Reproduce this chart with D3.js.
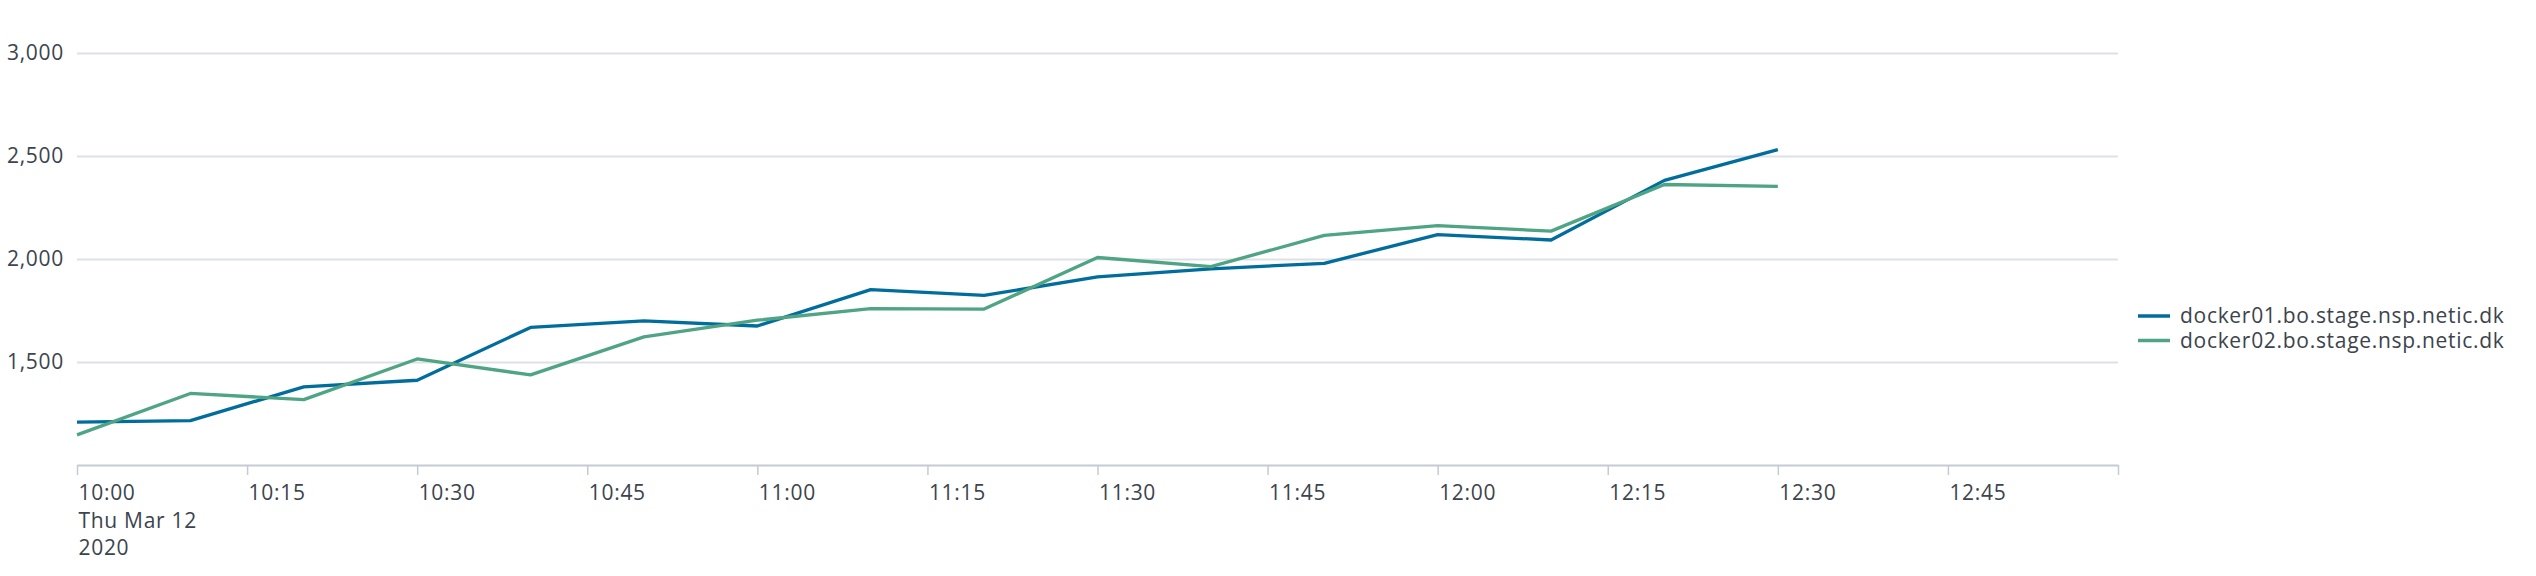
<!DOCTYPE html>
<html>
<head>
<meta charset="utf-8">
<script src="https://cdn.jsdelivr.net/npm/d3@7"></script>
<style>
  html, body { margin: 0; padding: 0; background: #ffffff; }
  svg { display: block; }
  text { font-family: "Open Sans", Lato, sans-serif; letter-spacing: 0.7px; }
</style>
</head>
<body>
<svg id="chart" width="2536" height="576"></svg>
<script>
// ---- data ----
const times = ["10:00","10:10","10:20","10:30","10:40","10:50","11:00","11:10",
               "11:20","11:30","11:40","11:50","12:00","12:10","12:20","12:30"];
const docker01 = [1208,1215,1379,1411,1667,1699,1674,1850,1822,1912,1951,1978,2117,2091,2380,2529];
const docker02 = [1146,1347,1317,1514,1437,1621,1702,1758,1756,2006,1962,2113,2161,2134,2360,2351];
const seriesNames = ["docker01.bo.stage.nsp.netic.dk", "docker02.bo.stage.nsp.netic.dk"];
const seriesColors = ["#006d9c", "#4fa484"];
const yTicks = [1500, 2000, 2500, 3000];
const xStart = "10:00", xEnd = "13:00";
const dateLines = ["Thu Mar 12", "2020"];

// ---- setup ----
const parse = d3.timeParse("%Y-%m-%d %H:%M");
const t = s => parse("2020-03-12 " + s);
const svg = d3.select("#chart");
const mLeft = 77, mRight = 2118, mTop = 52.5, mBottom = 465;

const x = d3.scaleTime().domain([t(xStart), t(xEnd)]).range([mLeft, mRight]);
const y = d3.scaleLinear().domain([1000, 3000]).range([mBottom, mTop]);

const textColor = "#3c444d";
const fontFam = "'Open Sans', Lato, sans-serif";
const fs = 21;

// gridlines
svg.append("g").selectAll("line").data(yTicks).join("line")
  .attr("x1", mLeft).attr("x2", mRight)
  .attr("y1", d => Math.round(y(d)) + 0.5).attr("y2", d => Math.round(y(d)) + 0.5)
  .attr("stroke", "#dde1e7").attr("stroke-width", 2);

// y labels
svg.append("g").selectAll("text").data(yTicks).join("text")
  .attr("x", 64).attr("y", d => y(d)).attr("dy", "0.36em")
  .attr("text-anchor", "end").attr("font-size", fs).attr("fill", textColor)
  .text(d => d3.format(",")(d));

// x axis
const xTickVals = d3.timeMinute.every(15).range(t(xStart), d3.timeMinute.offset(t(xEnd), 1));
const xAxis = d3.axisBottom(x).tickValues(xTickVals).tickSize(10).tickSizeOuter(0)
  .tickFormat(d => +d === +t(xEnd) ? "" : d3.timeFormat("%H:%M")(d));
const gx = svg.append("g").attr("transform", `translate(0,${mBottom})`).call(xAxis);
gx.select(".domain").attr("stroke", "#c3cbd4").attr("stroke-width", 2);
gx.selectAll(".tick line").attr("stroke", "#c3cbd4").attr("stroke-width", 1.5);
gx.selectAll(".tick text")
  .attr("text-anchor", "start").attr("x", 1).attr("y", 0).attr("dy", 35)
  .attr("font-size", fs).attr("font-family", fontFam)
  .attr("fill", textColor);
// date lines under first tick
const firstTick = gx.selectAll(".tick").filter(d => +d === +t(xStart)).select("text");
dateLines.forEach(s => {
  firstTick.append("tspan").attr("x", 1).attr("dy", 27.5).text(s);
});

// lines
const line = d3.line().x(d => x(d.t)).y(d => y(d.v));
[docker01, docker02].forEach((vals, i) => {
  const data = vals.map((v, j) => ({ t: t(times[j]), v }));
  svg.append("path").datum(data)
    .attr("fill", "none").attr("stroke", seriesColors[i])
    .attr("stroke-width", 3.3).attr("stroke-linejoin", "round")
    .attr("d", line);
});

// legend
const lg = svg.append("g");
seriesNames.forEach((name, i) => {
  const cy = 316 + i * 24.5;
  lg.append("line").attr("x1", 2138).attr("x2", 2170).attr("y1", cy).attr("y2", cy)
    .attr("stroke", seriesColors[i]).attr("stroke-width", 3.5);
  lg.append("text").attr("x", 2180).attr("y", cy).attr("dy", "0.35em")
    .attr("font-size", fs).attr("fill", textColor).text(name);
});
</script>
</body>
</html>
